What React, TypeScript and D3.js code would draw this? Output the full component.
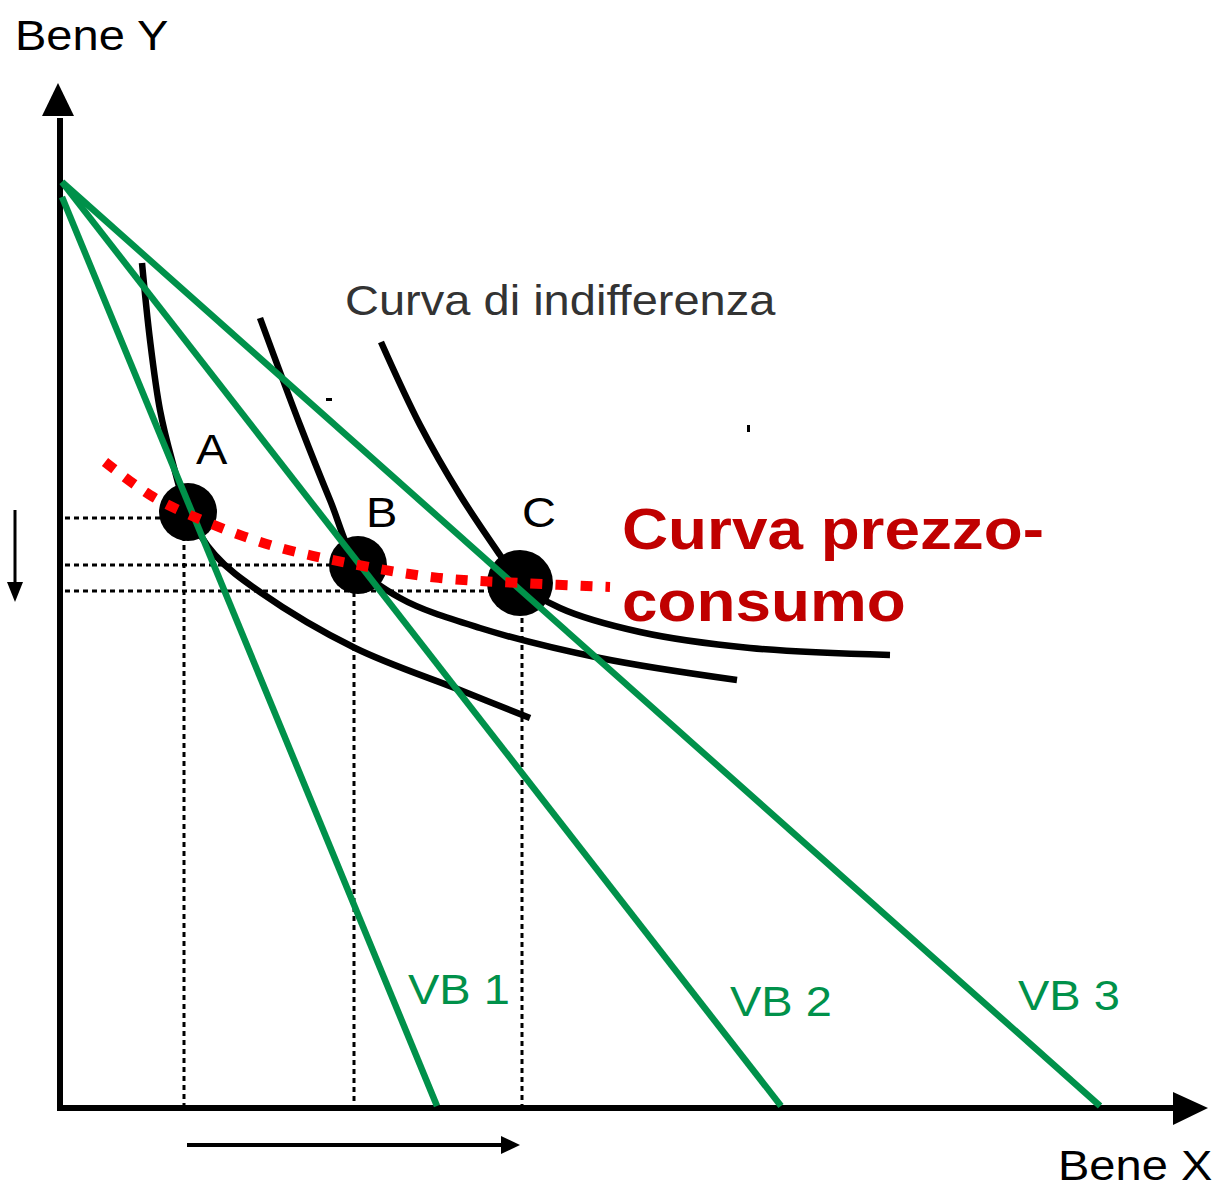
import * as d3 from "d3";
import { useEffect } from "react";

// data units: x = Bene X, y = Bene Y
const budgetLines = [
  { name: "VB 1", y0: 91.1, x0: 37.7, label: [34.8, 10.4] },
  { name: "VB 2", y0: 92.6, x0: 72.1, label: [67.0, 9.2] },
  { name: "VB 3", y0: 92.6, x0: 104.0, label: [95.8, 9.8] },
];

const ic1 = [
  [8.2, 84.5], [9.0, 76.8], [10.0, 69.8], [11.2, 64.8], [12.8, 59.6],
  [15.5, 55.3], [20.0, 51.6], [29.5, 46.0], [40.0, 41.8], [47.0, 39.0],
];
const ic2 = [
  [20.0, 79.0], [24.0, 68.3], [27.0, 60.8], [29.8, 54.3], [34.0, 51.0],
  [42.0, 48.0], [54.0, 45.0], [67.7, 42.8],
];
const ic3 = [
  [32.1, 76.6], [36.0, 68.3], [40.0, 61.3], [44.0, 55.3], [46.0, 52.5],
  [50.0, 50.0], [58.0, 47.6], [69.0, 46.0], [83.0, 45.3],
];
const priceConsumption = [
  [4.5, 64.6], [9.0, 61.3], [13.0, 59.3], [21.0, 56.3], [29.8, 54.3],
  [38.0, 53.0], [46.0, 52.5], [55.0, 52.1],
];

const pointNames = ["A", "B", "C"];
const pointX = [12.8, 29.8, 46.0];
const pointY = [59.6, 54.3, 52.5];
const pointR = [29, 29, 33];
const projX = [12.4, 29.4, 46.2];
const projY = [59.0, 54.3, 51.7];

const GREEN = "#00914a";
const SX = 1.12; // the original's text is a little wider than Arial

function Label({ x, y, size, fill, bold, children }: any) {
  return (
    <text transform={`translate(${x},${y}) scale(${SX},1)`} fontSize={size} fill={fill}
      fontWeight={bold ? "bold" : "normal"}>
      {children}
    </text>
  );
}

export default function App() {
  useEffect(() => {
    document.body.style.margin = "0";
  }, []);

  const width = 1223;
  const height = 1187;
  const x = d3.scaleLinear().domain([0, 100]).range([60, 1060]);
  const y = d3.scaleLinear().domain([0, 100]).range([1108, 108]);

  const curve = d3
    .line<number[]>()
    .x((d) => x(d[0]))
    .y((d) => y(d[1]))
    .curve(d3.curveCatmullRom.alpha(0.5));

  const font = "'Liberation Sans', Arial, sans-serif";

  return (
    <svg width={width} height={height} style={{ display: "block" }} fontFamily={font}>
      <rect width={width} height={height} fill="#fff" />

      {/* axes */}
      <line x1={x(0)} y1={y(0) + 3} x2={x(0)} y2={y(99)} stroke="#000" strokeWidth={6} />
      <path d={`M${x(0) - 2},${y(102.5)} L${x(0) - 18},${y(99.2)} L${x(0) + 14},${y(99.2)} Z`} fill="#000" />
      <line x1={x(0) - 3} y1={y(0)} x2={x(111.3)} y2={y(0)} stroke="#000" strokeWidth={6} />
      <path d={`M${x(114.8)},${y(0)} L${x(111.3)},${y(1.6)} L${x(111.3)},${y(-1.7)} Z`} fill="#000" />

      <Label x={15} y={50} size={42} fill="#000">Bene Y</Label>
      <Label x={1058} y={1180} size={42} fill="#000">Bene X</Label>

      {/* direction arrows */}
      <line x1={15} y1={510} x2={15} y2={585} stroke="#000" strokeWidth={3} />
      <path d="M7,582 L23,582 L15,602 Z" fill="#000" />
      <line x1={187} y1={1145} x2={505} y2={1145} stroke="#000" strokeWidth={4} />
      <path d="M501,1136 L520,1145 L501,1154 Z" fill="#000" />

      {/* projections */}
      {pointNames.map((n, i) => (
        <g key={"proj" + n}>
          <line x1={x(0.5)} y1={y(projY[i])} x2={x(pointX[i])} y2={y(projY[i])}
            stroke="#000" strokeWidth={3} strokeDasharray="5,4" />
          <line x1={x(projX[i])} y1={y(projY[i])} x2={x(projX[i])} y2={y(0)}
            stroke="#000" strokeWidth={3} strokeDasharray="5,4" />
        </g>
      ))}

      {/* indifference curves */}
      {[ic1, ic2, ic3].map((c, i) => (
        <path key={"ic" + i} d={curve(c) || ""} fill="none" stroke="#000" strokeWidth={6.5} />
      ))}

      {/* equilibrium points */}
      {pointNames.map((n, i) => (
        <circle key={"pt" + n} cx={x(pointX[i])} cy={y(pointY[i])} r={pointR[i]} fill="#000" />
      ))}

      {/* budget lines */}
      {budgetLines.map((b) => (
        <g key={b.name}>
          <line x1={x(0.2)} y1={y(b.y0)} x2={x(b.x0)} y2={y(0.2)} stroke={GREEN} strokeWidth={6.5} />
          <Label x={x(b.label[0])} y={y(b.label[1])} size={42} fill={GREEN}>{b.name}</Label>
        </g>
      ))}

      {/* price-consumption curve */}
      <path d={curve(priceConsumption) || ""} fill="none" stroke="#ff0000" strokeWidth={10}
        strokeDasharray="12,13" />

      {/* labels */}
      {pointNames.map((n, i) => (
        <Label key={"lbl" + n} x={x(pointX[i]) + [8, 8, 2][i]} y={y(pointY[i]) - [48, 38, 56][i]}
          size={42} fill="#000">{n}</Label>
      ))}

      <Label x={345} y={315} size={42} fill="#333">Curva di indifferenza</Label>
      <Label x={622} y={549} size={57} fill="#c00000" bold>Curva prezzo-</Label>
      <Label x={622} y={621} size={57} fill="#c00000" bold>consumo</Label>

      <rect x={326} y={398} width={6} height={3} fill="#000" />
      <rect x={747} y={425} width={3} height={7} fill="#000" />
    </svg>
  );
}
